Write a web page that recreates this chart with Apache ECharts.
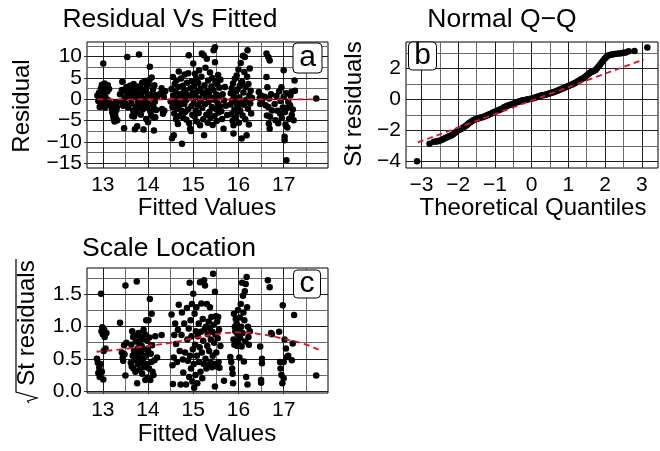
<!DOCTYPE html>
<html><head><meta charset="utf-8">
<script src="https://cdn.jsdelivr.net/npm/echarts@6/dist/echarts.min.js"></script>
<style>html,body{margin:0;padding:0;background:#fff}#c{width:660px;height:451px}</style>
</head><body><div id="c"></div>
<script>
// ---- Panel a: residual vs fitted ----
const residualPoints = [
[12.88,0.9],[12.9,-0.4],[12.92,1.6],[12.93,-1.8],[12.95,0.3],[12.96,2.6],[12.97,-1.2],[12.98,3.4],[13.0,1.1],[13.01,8.4],[13.02,-0.8],[13.03,2.1],[13.04,3.7],[13.05,-1.9],[13.06,0.5],[13.07,3.0],[13.08,-1.4],[13.1,1.8],[13.11,3.3],[13.12,-0.2],[13.14,2.4],[12.99,-1.6],[13.0,2.9],[12.94,1.2],
[13.18,-1.0],[13.2,-2.2],[13.21,-3.1],[13.22,-1.6],[13.23,-3.9],[13.24,-4.6],[13.25,-2.8],[13.26,-5.2],[13.27,-3.4],[13.28,-4.1],[13.29,-0.7],[13.3,-2.5],[13.31,-1.8],[13.32,-4.9],
[13.38,1.2],[13.4,-0.6],[13.42,2.2],[13.43,4.1],[13.45,-1.5],[13.47,-6.8],[13.48,0.4],[13.5,1.9],[13.5,-0.9],[13.52,2.8],[13.54,9.9],[13.55,0.9],[13.56,-1.9],[13.58,1.6],[13.6,3.2],
[13.62,0.2],[13.63,-1.0],[13.64,2.4],[13.65,-3.9],[13.66,1.1],[13.67,-2.6],[13.68,3.6],[13.69,-4.0],[13.7,0.8],[13.71,-7.0],[13.72,2.0],[13.73,-1.7],[13.74,-3.1],[13.75,1.5],[13.76,-6.3],[13.77,-0.4],[13.78,3.0],[13.79,-2.1],[13.8,10.5],[13.81,0.6],[13.82,-1.2],[13.83,2.7],[13.84,-3.6],[13.85,1.3],[13.86,-0.7],[13.87,3.9],[13.88,-2.4],[13.89,0.1],[13.9,-7.1],[13.91,2.2],[13.92,-1.5],[13.93,4.3],[13.94,-0.3],[13.95,1.8],[13.96,-4.6],[13.97,2.9],[13.98,-2.0],[13.99,0.7],[14.0,-5.4],[14.01,3.5],[14.02,-1.1],[14.03,4.5],[14.04,7.6],[14.05,-2.8],[14.06,1.2],[14.07,-3.7],[14.08,5.1],[14.09,0.3],[14.1,-4.1],[14.11,2.3],[14.12,-1.8],[14.13,-7.3],[14.14,3.3],[14.15,-0.6],[14.16,-4.2],[14.17,1.0],[14.18,-2.5],[14.2,0.5],
[14.27,1.3],[14.3,2.6],[14.31,-2.3],[14.33,-3.4],[14.35,0.6],[14.36,-2.7],[14.38,1.9],
[14.5,-0.5],[14.52,2.4],[14.53,-9.1],[14.54,-1.8],[14.55,5.2],[14.56,0.9],[14.57,-8.4],[14.58,-3.3],[14.59,3.6],[14.6,-0.9],[14.61,1.7],[14.62,-4.6],[14.63,4.4],[14.64,-2.2],[14.65,0.2],[14.66,-5.8],[14.67,2.9],[14.68,6.5],[14.69,-1.4],[14.7,-3.9],[14.71,1.2],[14.72,-0.3],[14.73,4.9],[14.74,-2.7],[14.75,-10.4],[14.76,0.6],[14.77,3.2],[14.78,-4.3],[14.79,1.8],[14.8,-1.1],[14.81,5.8],[14.82,-3.0],[14.83,2.1],[14.84,-0.2],[14.85,-4.8],[14.86,3.9],[14.87,1.0],[14.88,-2.4],[14.89,6.1],[14.9,10.3],[14.91,-5.6],[14.92,0.4],[14.93,-6.9],[14.94,2.6],[14.95,-7.4],[14.96,-1.6],[14.97,4.2],[14.98,-3.6],[14.99,1.4],
[15.0,8.4],[15.01,-0.8],[15.02,3.1],[15.03,-4.0],[15.04,6.0],[15.05,0.9],[15.06,-2.6],[15.07,4.7],[15.08,-5.2],[15.09,1.9],[15.1,-1.3],[15.11,3.8],[15.12,-3.2],[15.13,6.8],[15.14,0.2],[15.15,-6.1],[15.16,2.5],[15.17,-0.4],[15.18,5.3],[15.19,10.7],[15.2,-2.0],[15.21,1.4],[15.22,-4.7],[15.23,10.3],[15.24,-8.4],[15.25,3.3],[15.26,-1.1],[15.27,7.4],[15.28,0.7],[15.29,-3.6],[15.3,9.5],[15.31,2.0],[15.32,-5.5],[15.33,4.4],[15.34,-0.6],[15.35,1.6],[15.36,-2.9],[15.37,6.3],[15.38,-4.3],[15.39,0.4],[15.4,3.0],[15.41,-1.8],[15.42,5.0],[15.43,-6.0],[15.44,2.2],[15.45,11.5],[15.46,-0.1],[15.47,-3.9],[15.48,12.2],[15.48,8.7],[15.49,4.1],[15.5,-2.3],[15.51,1.1],[15.52,-5.1],[15.53,3.5],[15.54,-0.9],[15.55,5.7],[15.56,-3.1],[15.57,0.8],[15.58,2.7],[15.59,-1.6],[15.6,4.6],
[15.62,-2.8],[15.64,-4.6],[15.65,1.2],[15.67,-6.9],[15.68,-0.3],[15.7,2.9],[15.72,-1.5],[15.75,-3.7],
[15.82,-1.2],[15.83,1.4],[15.84,-3.5],[15.85,2.6],[15.86,-0.2],[15.87,-5.0],[15.88,3.7],[15.89,-6.1],[15.89,-8.0],[15.9,0.8],[15.91,-2.4],[15.92,4.8],[15.93,-4.3],[15.94,1.9],[15.95,-0.9],[15.96,5.6],[15.97,-3.0],[15.98,2.3],[15.99,-1.7],[16.0,7.0],[16.01,-5.5],[16.02,0.4],[16.03,3.2],[16.04,-2.7],[16.05,8.5],[16.06,-0.5],[16.07,-9.2],[16.08,4.1],[16.09,-3.8],[16.1,10.2],[16.11,1.6],[16.12,-1.3],[16.13,6.4],[16.14,9.9],[16.15,-4.7],[16.16,2.9],[16.17,-0.1],[16.18,-8.4],[16.19,5.3],[16.2,11.5],[16.21,-2.2],[16.22,3.6],[16.23,-5.9],[16.24,0.9],[16.25,7.2],[16.26,-1.0],[16.27,2.0],[16.28,-3.3],[16.3,0.3],
[16.45,1.7],[16.47,0.3],[16.48,-1.1],[16.5,0.9],[16.52,-0.4],
[16.58,0.6],[16.6,-1.4],[16.62,10.7],[16.62,5.2],[16.63,-3.8],[16.64,2.8],[16.66,9.9],[16.66,-1.8],[16.67,-5.7],[16.68,0.2],[16.69,9.1],[16.69,-6.9],[16.7,-4.1],[16.72,1.2],[16.74,-2.6],
[16.8,-1.1],[16.82,-4.9],[16.84,0.8],[16.86,-2.7],[16.88,-5.6],[16.9,1.9],[16.92,-3.3],[16.93,-0.4],[16.95,2.8],[16.96,-4.4],[16.98,-1.9],[17.0,6.8],[17.0,0.6],[17.02,-8.8],[17.02,-9.6],[17.03,-3.0],[17.04,-5.9],[17.05,1.4],[17.06,-14.3],[17.07,-2.0],[17.08,-6.6],[17.1,-0.6],[17.12,-4.6],[17.14,-1.4],[17.15,0.9],[17.17,1.7],[17.18,-3.7],[17.2,-2.4],[17.22,-4.9],[17.24,4.4],[17.25,2.0],
[17.72,0.2]
];
const residZeroLine = [[12.88,0],[17.72,0]];

// ---- Panel b: normal Q-Q ----
const qqPoints = [
[-3.12,-4.0],[-2.78,-2.86],[-2.66,-2.74],[-2.6,-2.72],[-2.55,-2.7],[-2.5,-2.66],[-2.45,-2.62],[-2.4,-2.56],[-2.35,-2.5],[-2.3,-2.45],[-2.26,-2.4],[-2.22,-2.36],[-2.18,-2.32],[-2.14,-2.25],[-2.1,-2.18],[-2.06,-2.1],[-2.02,-2.02],[-1.98,-1.96],[-1.94,-1.93],[-1.9,-1.88],[-1.86,-1.82],[-1.82,-1.76],[-1.78,-1.68],[-1.74,-1.6],[-1.7,-1.52],[-1.66,-1.46],[-1.62,-1.4],[-1.58,-1.34],[-1.54,-1.3],[-1.5,-1.26],[-1.46,-1.23],[-1.42,-1.2],[-1.38,-1.17],[-1.34,-1.15],[-1.3,-1.12],[-1.26,-1.08],[-1.22,-1.04],[-1.18,-1.0],[-1.14,-0.96],[-1.1,-0.92],[-1.06,-0.87],[-1.02,-0.82],[-0.98,-0.78],[-0.94,-0.74],[-0.9,-0.7],[-0.86,-0.66],[-0.82,-0.62],[-0.78,-0.56],[-0.74,-0.5],[-0.7,-0.46],[-0.66,-0.42],[-0.62,-0.38],[-0.58,-0.35],[-0.54,-0.32],[-0.5,-0.29],[-0.46,-0.25],[-0.42,-0.2],[-0.38,-0.17],[-0.34,-0.14],[-0.3,-0.11],[-0.26,-0.08],[-0.22,-0.06],[-0.18,-0.04],[-0.14,-0.02],[-0.1,0.0],[-0.06,0.02],[-0.02,0.04],[0.02,0.06],[0.06,0.09],[0.1,0.12],[0.14,0.15],[0.18,0.18],[0.22,0.21],[0.26,0.24],[0.3,0.26],[0.34,0.28],[0.38,0.3],[0.42,0.33],[0.46,0.36],[0.5,0.39],[0.54,0.42],[0.58,0.45],[0.62,0.48],[0.66,0.52],[0.7,0.56],[0.74,0.6],[0.78,0.64],[0.82,0.68],[0.86,0.72],[0.9,0.76],[0.94,0.8],[0.98,0.84],[1.02,0.88],[1.06,0.92],[1.1,0.96],[1.14,1.0],[1.18,1.05],[1.22,1.1],[1.26,1.16],[1.3,1.22],[1.34,1.28],[1.38,1.33],[1.42,1.38],[1.46,1.45],[1.5,1.54],[1.54,1.62],[1.58,1.7],[1.62,1.76],[1.66,1.8],[1.7,1.84],[1.74,1.9],[1.78,2.0],[1.82,2.12],[1.86,2.24],[1.9,2.36],[1.94,2.48],[1.98,2.6],[2.02,2.7],[2.06,2.78],[2.1,2.84],[2.15,2.87],[2.2,2.9],[2.26,2.92],[2.32,2.94],[2.38,2.96],[2.44,2.98],[2.5,3.0],[2.56,3.02],[2.64,3.1],[2.8,3.12],[3.15,3.35]
];
const qqRefLine = [[-3.1,-2.78],[3.05,2.57]];

// ---- Panel c: scale location ----
const scalePoints = [
[12.87,0.5],[12.89,0.44],[12.9,0.28],[12.92,0.36],[12.93,0.22],[12.95,0.42],[12.96,1.51],[12.97,0.93],[12.98,0.3],[12.99,0.99],[13.0,0.88],[13.01,0.18],[13.02,0.62],[13.03,0.95],[13.04,0.84],[13.06,0.66],[13.08,0.9],
[13.38,1.06],[13.42,0.6],[13.44,0.52],[13.45,0.47],[13.47,0.71],[13.5,1.64],[13.5,0.24],[13.52,0.75],[13.48,0.57],
[13.62,0.44],[13.63,0.72],[13.64,0.38],[13.65,0.93],[13.66,0.55],[13.67,0.84],[13.68,0.35],[13.69,0.62],[13.7,0.48],[13.71,0.86],[13.72,0.3],[13.73,0.77],[13.74,0.57],[13.75,1.7],[13.76,0.12],[13.77,0.66],[13.78,0.42],[13.79,0.9],[13.8,0.52],[13.81,0.74],[13.82,0.33],[13.83,0.84],[13.84,0.6],[13.85,0.45],[13.86,0.7],[13.87,0.27],[13.88,0.81],[13.89,0.5],[13.9,0.95],[13.91,0.37],[13.92,0.65],[13.93,0.88],[13.94,0.17],[13.95,0.55],[13.96,1.1],[13.97,0.42],[13.98,0.78],[13.99,0.21],[14.0,0.63],[14.01,1.1],[14.02,0.35],[14.03,0.83],[14.04,1.43],[14.05,0.17],[14.06,0.58],[14.07,0.45],[14.08,1.2],[14.09,0.71],[14.1,0.3],[14.12,0.25],[14.14,0.48],[14.16,0.85],[14.2,0.52],
[14.3,0.87],
[14.52,1.19],[14.54,0.4],[14.55,0.11],[14.57,0.52],[14.58,0.87],[14.6,1.05],[14.62,0.73],[14.64,0.45],[14.66,0.95],[14.68,1.34],[14.7,0.62],[14.72,0.1],[14.74,0.87],[14.75,1.22],[14.77,0.49],[14.78,0.29],[14.8,1.05],[14.82,0.6],[14.84,0.1],[14.86,1.29],[14.87,0.8],[14.88,0.47],[14.9,0.97],[14.91,0.22],[14.92,1.68],[14.93,0.55],[14.94,1.1],[14.95,0.35],[14.96,0.85],[14.97,1.35],[14.98,0.15],[14.99,0.65],
[15.0,1.51],[15.01,0.42],[15.02,0.05],[15.03,1.2],[15.04,0.72],[15.05,0.25],[15.06,0.93],[15.07,1.3],[15.08,0.55],[15.09,0.12],[15.1,0.85],[15.12,1.05],[15.13,0.45],[15.14,0.68],[15.15,1.69],[15.16,0.3],[15.17,0.92],[15.18,1.36],[15.19,0.6],[15.2,0.2],[15.21,1.12],[15.22,0.78],[15.23,0.42],[15.24,1.72],[15.25,0.95],[15.26,1.64],[15.27,0.5],[15.28,1.0],[15.29,0.35],[15.3,1.35],[15.31,0.7],[15.32,0.88],[15.33,0.4],[15.34,1.08],[15.35,0.62],[15.36,0.98],[15.37,1.3],[15.38,0.45],[15.39,0.8],[15.4,1.15],[15.41,0.37],[15.42,0.92],[15.43,0.55],[15.44,1.82],[15.45,1.03],[15.46,0.75],[15.47,0.42],[15.48,1.54],[15.48,0.07],[15.49,0.88],[15.5,1.16],[15.51,0.6],[15.52,0.38],[15.53,1.08],[15.54,0.82],[15.55,1.15],[15.56,0.45],[15.57,0.95],[15.58,0.36],[15.6,0.7],
[15.68,0.16],
[15.82,0.53],[15.84,0.45],[15.86,0.35],[15.87,0.27],[15.88,0.12],[15.89,0.8],[15.9,1.2],[15.91,0.72],[15.92,1.0],[15.93,0.93],[15.94,1.12],[15.95,0.78],[15.96,1.05],[15.97,0.7],[15.98,0.88],[15.99,1.26],[16.0,0.73],[16.01,0.95],[16.02,0.52],[16.03,1.14],[16.04,0.82],[16.05,1.35],[16.06,1.0],[16.07,0.69],[16.08,1.68],[16.09,0.9],[16.1,1.48],[16.11,1.22],[16.12,0.46],[16.13,1.1],[16.14,1.55],[16.15,0.77],[16.16,1.66],[16.17,0.22],[16.18,1.77],[16.19,1.3],[16.2,0.1],[16.21,1.0],[16.22,0.84],[16.23,0.72],[16.25,0.93],
[16.48,0.69],[16.5,0.17],[16.5,0.13],[16.52,0.5],[16.52,0.43],
[16.65,1.72],[16.69,1.61],[16.72,0.9],[16.74,0.88],
[16.9,0.92],[16.92,0.45],[16.93,0.35],[16.95,0.25],[16.97,0.12],[16.98,1.33],[17.0,0.2],[17.0,0.45],[17.02,0.8],[17.05,0.66],[17.07,0.53],[17.1,0.55],[17.18,0.48],[17.2,0.74],[17.23,1.18],
[17.72,0.24]
];
const scaleSmooth = [[12.86,0.61],[13.5,0.655],[14,0.7],[14.5,0.75],[15,0.82],[15.5,0.88],[16,0.91],[16.5,0.88],[17,0.81],[17.5,0.72],[17.77,0.64]];

// ---- ticks ----
const fittedTicks = [13,14,15,16,17];
const fittedMinor = [13.5,14.5,15.5,16.5,17.5];
const residTicks = [-15,-10,-5,0,5,10];
const residMinor = [-12.5,-7.5,-2.5,2.5,7.5,12.5];
const qqXTicks = [-3,-2,-1,0,1,2,3];
const qqXMinor = [-2.5,-1.5,-0.5,0.5,1.5,2.5];
const qqYTicks = [-4,-2,0,2];
const qqYMinor = [-3,-1,1,3];
const scaleTicks = [0,0.5,1,1.5];
const scaleMinor = [0.25,0.75,1.25,1.75];

const FONT = '"Liberation Sans", Arial, Helvetica, sans-serif';
const RED = '#e0102a';
const MAJ = '#1e1e1e', MIN = '#6a6a6a';
const minus = v => String(v).replace('-', '\u2212');

function gridLineData(xMaj, xMin, yMaj, yMin) {
  const mk = (key, v, c) => ({[key]: v, lineStyle: {color: c, width: 1, type: 'solid'}});
  return [
    ...xMin.map(v => mk('xAxis', v, MIN)), ...yMin.map(v => mk('yAxis', v, MIN)),
    ...xMaj.map(v => mk('xAxis', v, MAJ)), ...yMaj.map(v => mk('yAxis', v, MAJ))
  ];
}
function gridSeries(i, data) {
  return {type: 'line', xAxisIndex: i, yAxisIndex: i, data: [], z: 0, silent: true,
    markLine: {z: 0, silent: true, symbol: ['none', 'none'], label: {show: false}, animation: false, data: data}};
}
function xAx(i, min, max, ticks, fmt) {
  return {type: 'value', gridIndex: i, min: min, max: max,
    axisLine: {show: false}, splitLine: {show: false},
    axisTick: {show: true, length: 3, lineStyle: {color: '#333'}, customValues: ticks},
    axisLabel: {customValues: ticks, fontSize: 21, color: '#000', fontFamily: FONT, margin: 7, formatter: fmt}};
}
function yAx(i, min, max, ticks, fmt) {
  return {type: 'value', gridIndex: i, min: min, max: max,
    axisLine: {show: false}, splitLine: {show: false},
    axisTick: {show: true, length: 3, lineStyle: {color: '#333'}, customValues: ticks},
    axisLabel: {customValues: ticks, fontSize: 21, color: '#000', fontFamily: FONT, margin: 5, formatter: fmt}};
}
function txt(text, x, y, size, rot) {
  return {type: 'text', x: x, y: y, rotation: rot || 0, z: 10,
    style: {text: text, fill: '#000', fontSize: size, fontFamily: FONT, align: 'center', verticalAlign: 'middle'}};
}
function labelBox(t, cx, cy, w, h) {
  return {type: 'group', z: 20, zlevel: 2, children: [
    {type: 'rect', shape: {x: cx - w / 2, y: cy - h / 2, width: w, height: h, r: 4},
      style: {fill: '#fff', stroke: '#000', lineWidth: 1}, z: 20},
    {type: 'text', x: cx, y: cy, z: 21, style: {text: t, fill: '#000', fontSize: 30, fontFamily: FONT, align: 'center', verticalAlign: 'middle'}}
  ]};
}
const dots = {color: '#000', opacity: 1};
const redLine = {color: RED, width: 1.8, type: [6, 4], opacity: 1};
function redSeries(i, data, smooth) {
  return {type: 'line', xAxisIndex: i, yAxisIndex: i, data: data, smooth: !!smooth, showSymbol: false, symbol: 'none',
    z: 9, zlevel: 1, silent: true, lineStyle: redLine};
}

const chart = echarts.init(document.getElementById('c'), null, {renderer: 'canvas'});
chart.setOption({
  animation: false,
  backgroundColor: '#fff',
  grid: [
    {left: 87, top: 42, width: 241, height: 126, show: true, borderColor: '#000', borderWidth: 1, backgroundColor: '#fff'},
    {left: 406, top: 42, width: 252, height: 126, show: true, borderColor: '#000', borderWidth: 1, backgroundColor: '#fff'},
    {left: 87, top: 268, width: 241, height: 125, show: true, borderColor: '#000', borderWidth: 1, backgroundColor: '#fff'}
  ],
  xAxis: [
    xAx(0, 12.65, 17.98, fittedTicks, v => String(v)),
    xAx(1, -3.42, 3.44, qqXTicks, minus),
    xAx(2, 12.65, 17.98, fittedTicks, v => String(v))
  ],
  yAxis: [
    yAx(0, -16.09, 13.42, residTicks, minus),
    yAx(1, -4.43, 3.7, qqYTicks, minus),
    yAx(2, -0.03, 1.91, scaleTicks, v => v.toFixed(1))
  ],
  series: [
    gridSeries(0, gridLineData(fittedTicks, fittedMinor, residTicks, residMinor)),
    gridSeries(1, gridLineData(qqXTicks, qqXMinor, qqYTicks, qqYMinor)),
    gridSeries(2, gridLineData(fittedTicks, fittedMinor, scaleTicks, scaleMinor)),
    {type: 'scatter', xAxisIndex: 0, yAxisIndex: 0, data: residualPoints, symbolSize: 6.5, itemStyle: dots, z: 3},
    {type: 'scatter', xAxisIndex: 1, yAxisIndex: 1, data: qqPoints, symbolSize: 6.5, itemStyle: dots, z: 3},
    {type: 'scatter', xAxisIndex: 2, yAxisIndex: 2, data: scalePoints, symbolSize: 6.5, itemStyle: dots, z: 3},
    redSeries(0, residZeroLine),
    redSeries(1, qqRefLine),
    redSeries(2, scaleSmooth, true)
  ],
  graphic: [
    txt('Residual Vs Fitted', 170, 20, 26.5),
    txt('Normal Q\u2212Q', 502, 20, 26.5),
    txt('Scale Location', 169, 249, 26.5),
    txt('Fitted Values', 207, 208, 24),
    txt('Theoretical Quantiles', 533, 208, 24),
    txt('Fitted Values', 207, 434, 24),
    txt('Residual', 22, 106, 24, Math.PI / 2),
    txt('St residuals', 354, 104, 24, Math.PI / 2),
    txt('St residuals', 27, 323, 24, Math.PI / 2),
    {type: 'polyline', z: 10, shape: {points: [[29, 403], [27.5, 401], [37, 398], [16, 392], [16, 259]]},
      style: {stroke: '#000', lineWidth: 1.2, fill: null}},
    labelBox('a', 307.5, 58, 29, 30),
    labelBox('b', 422.5, 56, 28, 28),
    labelBox('c', 307, 284, 27, 28)
  ]
});
</script></body></html>
